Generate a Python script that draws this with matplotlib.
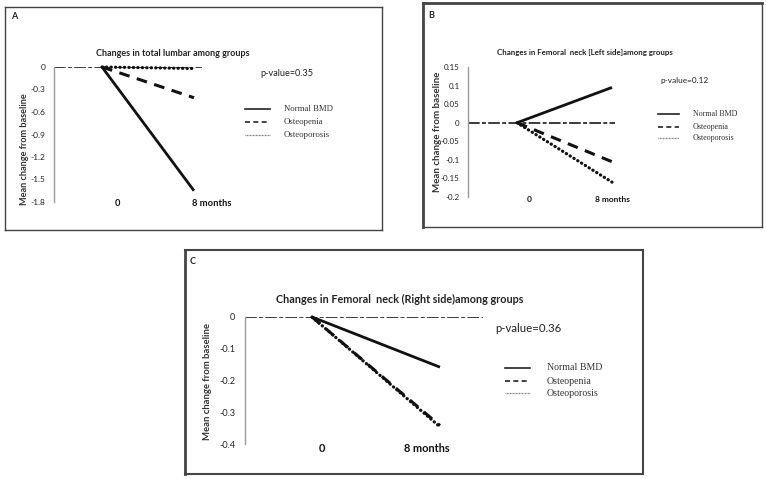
import matplotlib.pyplot as plt

W, H = 766, 479

groups = ['Normal BMD', 'Osteopenia', 'Osteoporosis']
time_pts = [0, 1]
time_labels = ['0', '8 months']

# change from baseline at 8 months, per group
lumbar = [-1.65, -0.41, -0.02]
fem_left = [0.095, -0.105, -0.16]
fem_right = [-0.158, -0.342, -0.346]

titles = ['Changes in total lumbar among groups',
          'Changes in Femoral  neck [Left side]among groups',
          'Changes in Femoral  neck (Right side)among groups']
pvals = ['p-value=0.35', 'p-value=0.12', 'p-value=0.36']
letters = ['A', 'B', 'C']
yticks_all = [[0, -0.3, -0.6, -0.9, -1.2, -1.5, -1.8],
              [0.15, 0.1, 0.05, 0, -0.05, -0.1, -0.15, -0.2],
              [0, -0.1, -0.2, -0.3, -0.4]]

fig = plt.figure(figsize=(W / 100, H / 100), dpi=100)
ov = fig.add_axes([0, 0, 1, 1])
ov.set_xlim(0, W)
ov.set_ylim(H, 0)
ov.axis('off')
renderer = fig.canvas.get_renderer()


def fit_text(x, y, s, size, vertical=False, **kw):
    # scale font so the text spans `size` pixels
    t = ov.text(x, y, s, fontsize=10, **kw)
    bb = t.get_window_extent(renderer)
    w = bb.height if vertical else bb.width
    t.set_fontsize(10 * size / w)
    return t


sans = 'Lato'
serif = 'Liberation Serif'

# layout of each panel in pixels
panels = [
    dict(box=(5, 7, 382, 230), blw=(1, 1, 1, 1), letter=(11, 16),
         ax=(54, 202, 67, 202), x0=102, x1=194, ylim=(-1.8, 0),
         title=(173, 53, 153), pval=(260, 73, 53),
         leg_x=(245, 270, 284, 49), leg_y=(109, 122, 135),
         ylab=(25, 149, 112), cats=[(117, 204), (212, 203)], cat_w=39,
         tick_fs=6.0, tick_pad=6, data=lumbar),
    dict(box=(423, 3, 762, 227), blw=(2, 2, 1, 1), letter=(428, 15),
         ax=(468, 615, 67, 197), x0=517, x1=612, ylim=(-0.2, 0.15),
         title=(585, 52, 177), pval=(660, 80, 48),
         leg_x=(658, 679, 693, 45), leg_y=(114, 127, 138),
         ylab=(438, 132, 120), cats=[(529, 200), (612, 200)], cat_w=35,
         tick_fs=5.8, tick_pad=6, data=fem_left),
    dict(box=(185, 250, 643, 474), blw=(2, 1.5, 1.5, 1.5), letter=(190, 261),
         ax=(245, 483, 317, 444), x0=312, x1=440, ylim=(-0.4, 0),
         title=(400, 299, 247), pval=(495, 329, 66),
         leg_x=(505, 530, 547, 55), leg_y=(368, 381, 393),
         ylab=(208, 382, 117), cats=[(322, 448), (427, 448)], cat_w=46,
         tick_fs=6.6, tick_pad=7, data=fem_right),
]

plot_styles = [dict(ls='-', lw=2.0, solid_capstyle='butt'),
               dict(ls=(0, (3.5, 2.5)), lw=2.2, dash_capstyle='butt'),
               dict(ls=(0, (0.1, 1.3)), lw=2.3, dash_capstyle='round')]
leg_styles = [dict(ls='-', lw=1.2, color='#222'),
              dict(ls=(0, (3, 2)), lw=1.2, color='#222'),
              dict(ls=(0, (0.7, 0.5)), lw=0.9, color='#777')]

for i, p in enumerate(panels):
    # frame around panel
    x0b, y0b, x1b, y1b = p['box']
    lw_l, lw_t, lw_r, lw_b = p['blw']
    ov.plot([x0b, x0b], [y0b, y1b], color='#444', lw=lw_l)
    ov.plot([x0b, x1b], [y0b, y0b], color='#444', lw=lw_t)
    ov.plot([x1b, x1b], [y0b, y1b], color='#444', lw=lw_r)
    ov.plot([x0b, x1b], [y1b, y1b], color='#444', lw=lw_b)
    ov.text(*p['letter'], letters[i], fontsize=6.5, family=sans,
            fontweight='bold', ha='left', va='center', color='#222')

    # axes
    xl, xr, yt, yb = p['ax']
    ax = fig.add_axes([xl / W, 1 - yb / H, (xr - xl) / W, (yb - yt) / H])
    ax.patch.set_alpha(0)
    span = p['x1'] - p['x0']
    ax.set_xlim((xl - p['x0']) / span, (xr - p['x0']) / span)
    ax.set_ylim(p['ylim'])
    for s in ['top', 'right', 'bottom']:
        ax.spines[s].set_visible(False)
    ax.spines['left'].set_color('#9a9a9a')
    ax.spines['left'].set_linewidth(1)
    ax.set_xticks([])
    ax.set_yticks(yticks_all[i])
    ax.set_yticklabels([f'{v:g}' for v in yticks_all[i]])
    ax.tick_params(axis='y', length=0, pad=p['tick_pad'],
                   labelsize=p['tick_fs'], labelcolor='#222')
    for lab in ax.get_yticklabels():
        lab.set_family(sans)
    ax.axhline(0, color='#3a3a3a', lw=1.4, ls=(0, (6, 1.2, 2, 1.2)), zorder=1)

    for g, v in enumerate(p['data']):
        ax.plot(time_pts, [0, v], color='#111', clip_on=False, zorder=3,
                **plot_styles[g])

    # texts
    tx, ty, tw = p['title']
    fit_text(tx, ty, titles[i], tw, family=sans, fontweight='bold',
             ha='center', va='center', color='#222')
    px_, py_, pw = p['pval']
    fit_text(px_, py_, pvals[i], pw, family=sans, ha='left', va='center',
             color='#222')
    lx, ly, lh = p['ylab']
    fit_text(lx, ly, 'Mean change from baseline', lh, vertical=True,
             family=sans, fontweight='bold', rotation=90, ha='center',
             va='center', color='#333')
    t8 = fit_text(*p['cats'][1], time_labels[1], p['cat_w'], family=sans,
                  fontweight='bold', ha='center', va='center', color='#111')
    ov.text(*p['cats'][0], time_labels[0], fontsize=t8.get_fontsize(),
            family=sans, fontweight='bold', ha='center', va='center',
            color='#111')

    # legend
    la, lb, ltx, lw_txt = p['leg_x']
    fs = None
    for g, name in enumerate(groups):
        yy = p['leg_y'][g]
        ov.plot([la, lb], [yy, yy], **leg_styles[g])
        if fs is None:
            t = fit_text(ltx, yy, name, lw_txt, family=serif, ha='left',
                         va='center', color='#333')
            fs = t.get_fontsize()
        else:
            ov.text(ltx, yy, name, fontsize=fs, family=serif, ha='left',
                    va='center', color='#333')

fig.savefig('out.png', dpi=100)
